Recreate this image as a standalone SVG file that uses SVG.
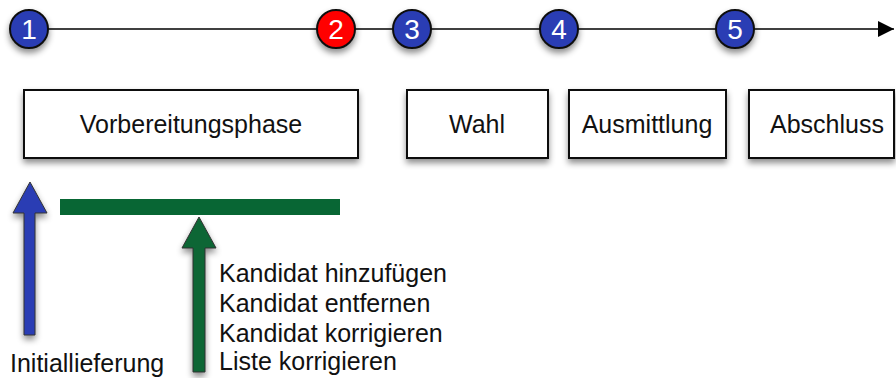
<svg xmlns="http://www.w3.org/2000/svg" width="896" height="378" viewBox="0 0 896 378">
<defs>
<filter id="sh" x="-30%" y="-30%" width="160%" height="180%">
<feDropShadow dx="0" dy="4" stdDeviation="3" flood-color="#000" flood-opacity="0.45"/>
</filter>
<marker id="ah" viewBox="0 0 10 10" refX="10" refY="5" markerWidth="16" markerHeight="16" markerUnits="userSpaceOnUse" orient="auto">
<path d="M0,0 L10,5 L0,10 z" fill="#000"/>
</marker>
<style>
.box{fill:#fff;stroke:#111;stroke-width:2;filter:url(#sh)}
.lbl{font-family:"Liberation Sans",Arial,sans-serif;font-size:25px;fill:#111}
.num{font-family:"Liberation Sans",Arial,sans-serif;font-size:28px;fill:#fff;text-anchor:middle}
.blue{fill:#2a3db4;stroke:#111;stroke-width:2;filter:url(#sh)}
.red{fill:#ff0000;stroke:#111;stroke-width:2;filter:url(#sh)}
</style>
</defs>
<rect width="896" height="378" fill="#fff"/>
<g id="connectors">
<line x1="29" y1="29" x2="894" y2="29" stroke="#000" stroke-width="1.6" marker-end="url(#ah)"/>
</g>
<g id="m1"><circle class="blue" cx="29" cy="29" r="19"/><text class="num" x="29" y="39">1</text></g>
<g id="m2"><circle class="red" cx="336" cy="29" r="19"/><text class="num" x="336" y="39">2</text></g>
<g id="m3"><circle class="blue" cx="412" cy="29" r="19"/><text class="num" x="412" y="39">3</text></g>
<g id="m4"><circle class="blue" cx="559" cy="29" r="19"/><text class="num" x="559" y="39">4</text></g>
<g id="m5"><circle class="blue" cx="735" cy="29" r="19"/><text class="num" x="735" y="39">5</text></g>
<g id="vorbereitung"><rect class="box" x="24" y="90" width="334" height="68"/><text class="lbl" x="191" y="133" text-anchor="middle">Vorbereitungsphase</text></g>
<g id="wahl"><rect class="box" x="407" y="90" width="141" height="68"/><text class="lbl" x="477" y="133" text-anchor="middle">Wahl</text></g>
<g id="ausmittlung"><rect class="box" x="569" y="90" width="157" height="68"/><text class="lbl" x="647" y="133" text-anchor="middle">Ausmittlung</text></g>
<g id="abschluss"><rect class="box" x="749" y="90" width="145" height="68"/><text class="lbl" x="827" y="133" text-anchor="middle">Abschluss</text></g>
<g id="initial">
<path d="M30,182 L47,213 L35,213 L35,335 L24,335 L24,213 L13,213 Z" fill="#2a3db4" stroke="#333" stroke-width="1" filter="url(#sh)"/>
<text class="lbl" x="10" y="372">Initiallieferung</text>
</g>
<g id="bar"><rect x="60" y="199" width="280" height="16" fill="#086634"/></g>
<g id="changes">
<path d="M199,217 L216,248 L205,248 L205,372 L193,372 L193,248 L182,248 Z" fill="#086634" stroke="#333" stroke-width="1" filter="url(#sh)"/>
<text class="lbl" x="219" y="282">Kandidat hinzufügen</text>
<text class="lbl" x="219" y="312">Kandidat entfernen</text>
<text class="lbl" x="219" y="342">Kandidat korrigieren</text>
<text class="lbl" x="219" y="370">Liste korrigieren</text>
</g>
</svg>
